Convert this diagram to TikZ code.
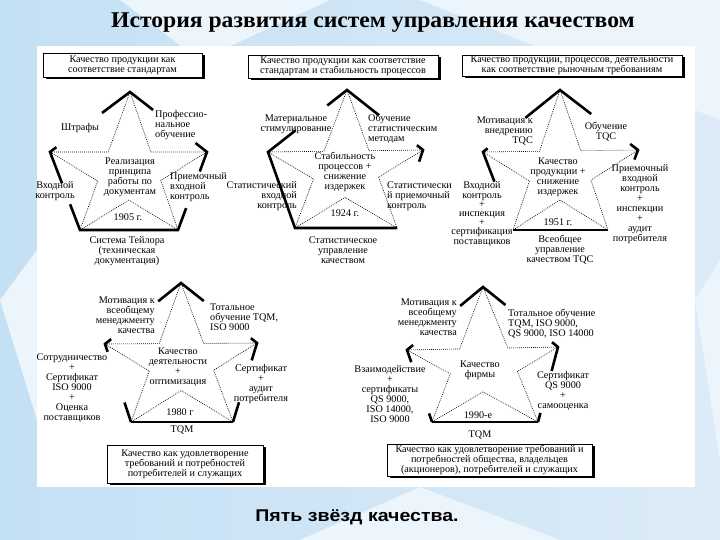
\documentclass[tikz,border=0pt]{standalone}
\usepackage{fontspec}
\setmainfont{Liberation Serif}
\newfontfamily\capfont{Liberation Sans}
\usetikzlibrary{calc,shadows}
\definecolor{bgblue}{HTML}{DCEBF7}
\definecolor{bgdeep}{HTML}{C4E0F5}
\definecolor{bglite}{HTML}{EDF5FC}
\tikzset{
  lbl/.style={font=\fontsize{10.2}{10}\selectfont, align=center, inner sep=0pt},
  thk/.style={line width=2.6pt, line join=miter, line cap=butt},
  med/.style={line width=1.4pt, line cap=butt},
  dotline/.style={line width=0.6pt, dash pattern=on 0.9pt off 1.1pt},
  qbox/.style={draw, fill=white, line width=0.6pt, inner sep=0pt, align=center,
    font=\fontsize{10.2}{10}\selectfont,
    drop shadow={shadow xshift=2.8pt, shadow yshift=-2.4pt, fill=black, opacity=1}},
}
\newcommand\dotstar[1]{%
  \draw[dotline] (#1l) -- (intersection of #1a--#1bl and #1l--#1r) -- (#1a)
    -- (intersection of #1a--#1br and #1l--#1r) -- (#1r)
    -- (intersection of #1r--#1bl and #1a--#1br) -- (#1br)
    -- (intersection of #1l--#1br and #1r--#1bl) -- (#1bl)
    -- (intersection of #1l--#1br and #1a--#1bl) -- cycle;}
\newcommand\vcorner[5]{\draw[thk] ($(#1)!#3!(#2)$) -- (#1) -- ($(#1)!#5!(#4)$);}
\begin{document}
\begin{tikzpicture}[x=1pt,y=-1pt]
\useasboundingbox (0,0) rectangle (720,540);
% background
\shade[left color=bgdeep, right color=bgblue] (0,0) rectangle (720,540);
\fill[bglite] (120,0) -- (330,0) -- (200,60) -- cycle;
\fill[bglite] (420,0) -- (720,0) -- (720,120) -- cycle;
\fill[bglite] (0,300) -- (37,250) -- (37,420) -- cycle;
\fill[bglite] (300,540) -- (420,487) -- (560,540) -- cycle;
\fill[bglite] (695,300) -- (720,260) -- (720,460) -- cycle;
\fill[white] (37,46) rectangle (695,487);
% title and caption
\node[font=\bfseries\fontsize{22.5}{25}\selectfont, inner sep=0pt] (title) at (373,23) {\scalebox{1.05}[1]{История развития систем управления качеством}};
\node[font=\capfont\bfseries\fontsize{17}{19}\selectfont, inner sep=0pt] (caption) at (357,517) {\scalebox{1.15}[1]{Пять звёзд качества.}};

% ---------- star 1 (1905) ----------
\coordinate (s1a) at (130,92);
\coordinate (s1l) at (50,152);
\coordinate (s1r) at (207,152);
\coordinate (s1bl) at (80,230);
\coordinate (s1br) at (178,230);
\dotstar{s1}
\vcorner{s1a}{s1l}{0.35}{s1r}{0.3}
\vcorner{s1l}{s1a}{0.08}{s1bl}{0.4}
\vcorner{s1r}{s1a}{0.15}{s1br}{0.25}
\draw[thk] ($(s1bl)!0.33!(s1l)$) -- (s1bl) -- (s1br) -- ($(s1br)!0.28!(s1r)$);
\node[qbox, minimum width=159pt, minimum height=24pt] (box1) at (122.5,65) {Качество продукции как\\соответствие стандартам};
\node[lbl] (s1t1) at (80,128) {Штрафы};
\node[lbl, anchor=west, align=left] (s1t2) at (155,125) {Профессио-\\нальное\\обучение};
\node[lbl] (s1t3) at (130,177) {Реализация\\принципа\\работы по\\документам};
\node[lbl] (s1t4) at (55,191) {Входной\\контроль};
\node[lbl, anchor=west, align=left] (s1t5) at (170,187) {Приемочный\\входной\\контроль};
\node[lbl] (s1t6) at (128,217) {1905 г.};
\node[lbl] (s1t7) at (127,251) {Система Тейлора\\(техническая\\документация)};

% ---------- star 2 (1924) ----------
\coordinate (s2a) at (347,90);
\coordinate (s2l) at (268,152);
\coordinate (s2r) at (423,150);
\coordinate (s2bl) at (295,228);
\coordinate (s2br) at (397,228);
\dotstar{s2}
\vcorner{s2a}{s2l}{0.25}{s2r}{0.42}
\draw[thk] ($(s2l)!0.35!(s2a)$) -- (s2l) -- (s2bl) -- (s2br);
\vcorner{s2r}{s2a}{0.08}{s2br}{0.15}
\node[qbox, minimum width=190pt, minimum height=23pt] (box2) at (343,66.5) {Качество продукции как соответствие\\стандартам и стабильность процессов};
\node[lbl] (s2t1) at (296,124) {Материальное\\стимулирование};
\node[lbl, anchor=west, align=left] (s2t2) at (368,129) {Обучение\\статистическим\\методам};
\node[lbl] (s2t3) at (345,172) {Стабильность\\процессов +\\снижение\\издержек};
\node[lbl, anchor=east, align=right] (s2t4) at (297,196) {Статистический\\входной\\контроль};
\node[lbl, anchor=west, align=left] (s2t5) at (387,196) {Статистически\\й приемочный\\контроль};
\node[lbl] (s2t6) at (345,213) {1924 г.};
\node[lbl] (s2t7) at (343,250) {Статистическое\\управление\\качеством};

% ---------- star 3 (1951) ----------
\coordinate (s3a) at (560,90);
\coordinate (s3l) at (483,152);
\coordinate (s3r) at (638,150);
\coordinate (s3bl) at (513,230);
\coordinate (s3br) at (608,230);
\dotstar{s3}
\vcorner{s3a}{s3l}{0.45}{s3r}{0.4}
\vcorner{s3l}{s3a}{0.06}{s3bl}{0.38}
\vcorner{s3r}{s3a}{0.1}{s3br}{0.12}
\draw[thk] (s3bl) -- (s3br);
\node[qbox, minimum width=220pt, minimum height=21pt] (box3) at (572,65.5) {Качество продукции, процессов, деятельности\\как соответствие рыночным требованиям};
\node[lbl, anchor=east, align=right] (s3t1) at (533,131) {Мотивация к\\внедрению\\TQC};
\node[lbl] (s3t2) at (606,132) {Обучение\\TQC};
\node[lbl] (s3t3) at (558,177) {Качество\\продукции +\\снижение\\издержек};
\node[lbl, font=\fontsize{10.2}{9.2}\selectfont] (s3t4) at (482,214) {Входной\\контроль\\+\\инспекция\\+\\сертификация\\поставщиков};
\node[lbl] (s3t5) at (640,204) {Приемочный\\входной\\контроль\\+\\инспекции\\+\\аудит\\потребителя};
\node[lbl] (s3t6) at (558,222) {1951 г.};
\node[lbl] (s3t7) at (560,250) {Всеобщее\\управление\\качеством TQC};

% ---------- star 4 (1980) ----------
\coordinate (s4a) at (181,283);
\coordinate (s4l) at (105,344);
\coordinate (s4r) at (257,343);
\coordinate (s4bl) at (131,422);
\coordinate (s4br) at (233,422);
\dotstar{s4}
\vcorner{s4a}{s4l}{0.3}{s4r}{0.3}
\vcorner{s4l}{s4a}{0.08}{s4bl}{0.1}
\vcorner{s4r}{s4a}{0.08}{s4br}{0.22}
\draw[thk] ($(s4bl)!0.25!(s4l)$) -- (s4bl);
\draw[thk] ($(s4br)!0.25!(s4r)$) -- (s4br);
\draw[med] (s4bl) -- (s4br);
\node[qbox, minimum width=156pt, minimum height=38pt] (box4) at (185,464) {Качество как удовлетворение\\требований и потребностей\\потребителей и служащих};
\node[lbl, anchor=east, align=right] (s4t1) at (155,315) {Мотивация к\\всеобщему\\менеджменту\\качества};
\node[lbl, anchor=west, align=left] (s4t2) at (210,317) {Тотальное\\обучение TQM,\\ISO 9000};
\node[lbl] (s4t3) at (178,367) {Качество\\деятельности\\+\\оптимизация};
\node[lbl] (s4t4) at (72,388) {Сотрудничество\\+\\Сертификат\\ISO 9000\\+\\Оценка\\поставщиков};
\node[lbl] (s4t5) at (261,384) {Сертификат\\+\\аудит\\потребителя};
\node[lbl] (s4t6) at (180,412) {1980 г};
\node[lbl] (s4t7) at (182,430) {TQM};

% ---------- star 5 (1990s) ----------
\coordinate (s5a) at (483,287);
\coordinate (s5l) at (407,350);
\coordinate (s5r) at (558,347);
\coordinate (s5bl) at (432,422);
\coordinate (s5br) at (538,422);
\dotstar{s5}
\vcorner{s5a}{s5l}{0.3}{s5r}{0.3}
\vcorner{s5l}{s5a}{0.08}{s5bl}{0.17}
\vcorner{s5r}{s5a}{0.08}{s5br}{0.32}
\draw[thk] ($(s5bl)!0.12!(s5l)$) -- (s5bl);
\draw[thk] ($(s5br)!0.12!(s5r)$) -- (s5br);
\draw[med] (s5bl) -- (s5br);
\node[qbox, minimum width=205pt, minimum height=32pt] (box5) at (489.5,460) {Качество как удовлетворение требований и\\потребностей общества, владельцев\\(акционеров), потребителей и служащих};
\node[lbl, anchor=east, align=right] (s5t1) at (457,317) {Мотивация к\\всеобщему\\менеджменту\\качества};
\node[lbl, anchor=west, align=left] (s5t2) at (508,324) {Тотальное обучение\\TQM, ISO 9000,\\QS 9000, ISO 14000};
\node[lbl] (s5t3) at (480,370) {Качество\\фирмы};
\node[lbl] (s5t4) at (390,394) {Взаимодействие\\+\\сертификаты\\QS 9000,\\ISO 14000,\\ISO 9000};
\node[lbl] (s5t5) at (563,391) {Сертификат\\QS 9000\\+\\самооценка};
\node[lbl] (s5t6) at (478,415) {1990-е};
\node[lbl] (s5t7) at (480,435) {TQM};
\end{tikzpicture}
\end{document}
